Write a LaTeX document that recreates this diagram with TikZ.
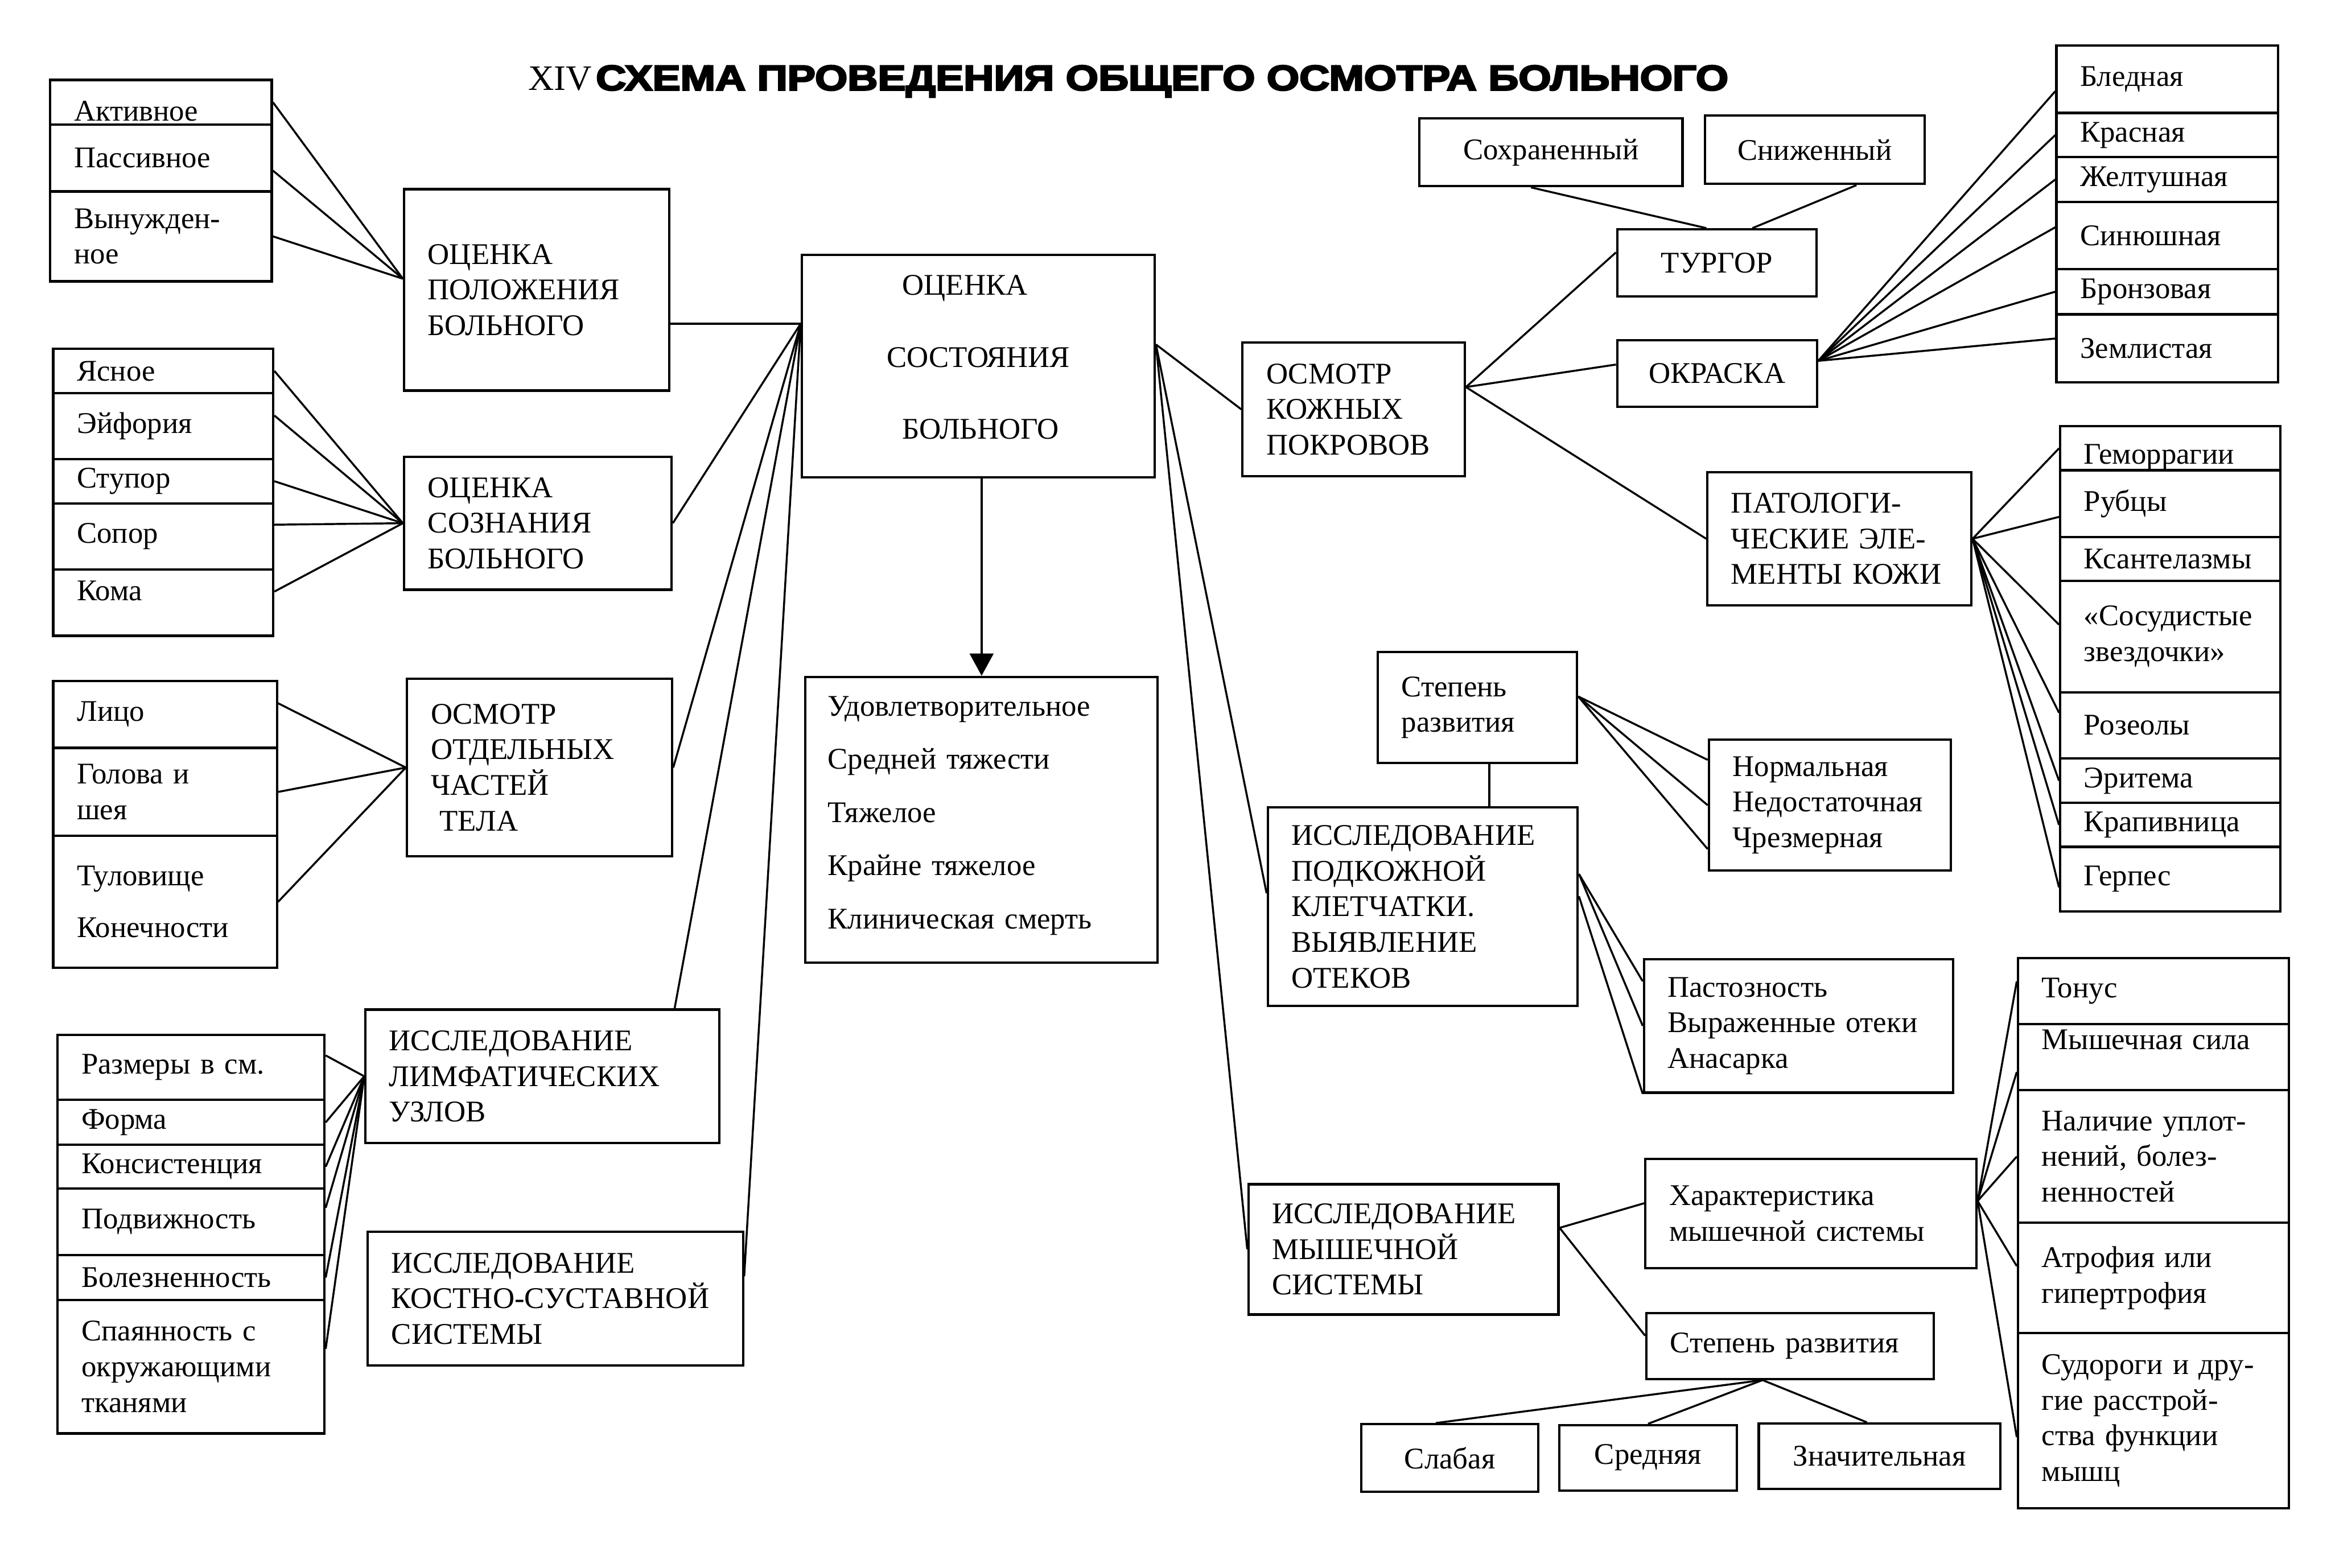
\documentclass[tikz,border=0pt]{standalone}
\usepackage{fontspec}
\setmainfont{Liberation Serif}
\newfontfamily\titlefont[BoldFeatures={FakeBold=4}]{Liberation Sans}
\usetikzlibrary{arrows.meta}
\newcommand\boxfont{\fontsize{11.5}{13.66}\selectfont}

\begin{document}
\begin{tikzpicture}[x=0.2mm,y=-0.2mm,>={Triangle[width=3.2mm,length=3mm]},
	box/.style={draw,line width=0.9pt,anchor=north west,inner xsep=3.2mm,inner ysep=0pt,align=left,font=\boxfont},
	cbox/.style={draw,line width=0.9pt,anchor=north west,inner sep=0pt,align=center,font=\boxfont},
	link/.style={line width=0.75pt}]
	  \useasboundingbox (0,0) rectangle (1568,1055);
	  \node[anchor=base west,inner sep=0pt,font=\fontsize{13.7}{14}\selectfont] (num) at (355,60.7) {XIV};
	  \node[anchor=base west,inner sep=0pt,font=\titlefont\bfseries\fontsize{13.6}{14}\selectfont] (title) at (400.5,60.7) {\scalebox{1.18}[1]{СХЕМА ПРОВЕДЕНИЯ ОБЩЕГО ОСМОТРА БОЛЬНОГО}};
	  \node[box,text width=23.4mm,minimum height=6mm] (pos1) at (33,53) {\rule{0pt}{5.1mm}Активное};
	  \node[box,text width=23.4mm,minimum height=9mm] (pos2) at (33,83) {Пассивное};
	  \node[box,text width=23.4mm,minimum height=12.1mm] (pos3) at (33,128) {Вынужден-\\ное};
	  \node[box,text width=29.3mm,minimum height=27.1mm] (pb) at (271,126.5) {ОЦЕНКА\\ПОЛОЖЕНИЯ\\БОЛЬНОГО};
	  \node[box,text width=23.2mm,minimum height=5.92mm] (con1) at (35,234) {Ясное};
	  \node[box,text width=23.2mm,minimum height=8.88mm] (con2) at (35,263.6) {Эйфория};
	  \node[box,text width=23.2mm,minimum height=6mm] (con3) at (35,308) {Ступор};
	  \node[box,text width=23.2mm,minimum height=8.9mm] (con4) at (35,338) {Сопор};
	  \node[box,text width=23.2mm,minimum height=8.9mm] (con5) at (35,382.5) {Кома\rule[-3.2mm]{0pt}{3.2mm}};
	  \node[box,text width=29.6mm,minimum height=17.9mm] (cb) at (271,306.5) {ОЦЕНКА\\СОЗНАНИЯ\\БОЛЬНОГО};
	  \node[box,text width=23.7mm,minimum height=9mm] (body1) at (35,457.4) {Лицо};
	  \node[box,text width=23.7mm,minimum height=11.86mm] (body2) at (35,502.4) {Голова и\\шея};
	  \node[box,text width=23.7mm,minimum height=17.72mm] (body3) at (35,561.7) {Туловище\\[2.2mm]Конечности};
	  \node[box,text width=29.26mm,minimum height=23.86mm] (bb) at (273,456) {ОСМОТР\\ОТДЕЛЬНЫХ\\ЧАСТЕЙ\\\hspace*{1.2mm}ТЕЛА};
	  \node[box,text width=29.5mm,minimum height=8.78mm] (lym1) at (38,695.4) {Размеры в см.};
	  \node[box,text width=29.5mm,minimum height=6.04mm] (lym2) at (38,739.3) {Форма};
	  \node[box,text width=29.5mm,minimum height=5.9mm] (lym3) at (38,769.5) {Консистенция};
	  \node[box,text width=29.5mm,minimum height=8.96mm] (lym4) at (38,799) {Подвижность};
	  \node[box,text width=29.5mm,minimum height=6mm] (lym5) at (38,843.8) {Болезненность};
	  \node[box,text width=29.5mm,minimum height=17.98mm] (lym6) at (38,873.8) {Спаянность с\\окружающими\\тканями};
	  \node[box,text width=41.2mm,minimum height=17.96mm] (lb) at (245,678.5) {ИССЛЕДОВАНИЕ\\ЛИМФАТИЧЕСКИХ\\УЗЛОВ};
	  \node[box,text width=44.1mm,minimum height=18mm] (bone) at (246.5,828) {ИССЛЕДОВАНИЕ\\КОСТНО-СУСТАВНОЙ\\СИСТЕМЫ};
	  \node[cbox,align=left,minimum width=47.48mm,minimum height=29.96mm] (main) at (538.6,170.6) {\hspace*{2.1mm}ОЦЕНКА\\[4.9mm]СОСТОЯНИЯ\\[4.9mm]\hspace*{2.1mm}БОЛЬНОГО\rule[-2.4mm]{0pt}{2.4mm}};
	  \node[box,inner xsep=3mm,text width=41.4mm,minimum height=38.46mm] (stat) at (541,454.7) {Удовлетворительное\\[2.35mm]Средней тяжести\\[2.35mm]Тяжелое\\[2.35mm]Крайне тяжелое\\[2.35mm]Клиническая смерть\rule[-2mm]{0pt}{2mm}};
	  \node[box,text width=23.5mm,minimum height=18.02mm] (skin) at (835,229.6) {ОСМОТР\\КОЖНЫХ\\ПОКРОВОВ};
	  \node[cbox,minimum width=35.4mm,minimum height=9.1mm] (keep) at (954,79) {Сохраненный};
	  \node[cbox,minimum width=29.6mm,minimum height=9.2mm] (low) at (1146,77) {Сниженный};
	  \node[cbox,minimum width=26.8mm,minimum height=9.02mm] (turg) at (1087,153.5) {ТУРГОР};
	  \node[cbox,minimum width=26.9mm,minimum height=9mm] (col) at (1087,228) {ОКРАСКА};
	  \node[box,text width=23.4mm,minimum height=9.04mm] (col1) at (1382.5,30) {Бледная};
	  \node[box,text width=23.4mm,minimum height=5.96mm] (col2) at (1382.5,75.2) {Красная};
	  \node[box,text width=23.4mm,minimum height=6mm] (col3) at (1382.5,105) {Желтушная};
	  \node[box,text width=23.4mm,minimum height=9.06mm] (col4) at (1382.5,135) {Синюшная};
	  \node[box,text width=23.4mm,minimum height=6.08mm] (col5) at (1382.5,180.3) {Бронзовая};
	  \node[box,text width=23.4mm,minimum height=9.12mm] (col6) at (1382.5,210.7) {Землистая};
	  \node[box,text width=29.12mm,minimum height=17.88mm] (pat) at (1147.7,317) {ПАТОЛОГИ-\\ЧЕСКИЕ ЭЛЕ-\\МЕНТЫ КОЖИ};
	  \node[box,text width=23.2mm,minimum height=5.9mm] (el1) at (1385,286) {\rule{0pt}{5.1mm}Геморрагии};
	  \node[box,text width=23.2mm,minimum height=9mm] (el2) at (1385,315.5) {Рубцы};
	  \node[box,text width=23.2mm,minimum height=5.9mm] (el3) at (1385,360.5) {Ксантелазмы};
	  \node[box,text width=23.2mm,minimum height=15mm] (el4) at (1385,390) {«Сосудистые\\звездочки»};
	  \node[box,text width=23.2mm,minimum height=8.9mm] (el5) at (1385,465) {Розеолы};
	  \node[box,text width=23.2mm,minimum height=6mm] (el6) at (1385,509.5) {Эритема};
	  \node[box,text width=23.2mm,minimum height=5.9mm] (el7) at (1385,539.5) {Крапивница};
	  \node[box,text width=23.2mm,minimum height=8.7mm] (el8) at (1385,569) {Герпес};
	  \node[box,text width=20.4mm,minimum height=14.92mm] (deg) at (926,438) {Степень\\развития};
	  \node[box,text width=35.3mm,minimum height=26.7mm] (sub) at (852,542.5) {ИССЛЕДОВАНИЕ\\ПОДКОЖНОЙ\\КЛЕТЧАТКИ.\\ВЫЯВЛЕНИЕ\\ОТЕКОВ};
	  \node[box,text width=26.16mm,minimum height=17.6mm] (norm) at (1148.7,497) {Нормальная\\Недостаточная\\Чрезмерная};
	  \node[box,text width=35.2mm,minimum height=17.98mm] (ed) at (1105,644.5) {Пастозность\\Выраженные отеки\\Анасарка};
	  \node[box,text width=35.3mm,minimum height=17.54mm] (mus) at (839,796) {ИССЛЕДОВАНИЕ\\МЫШЕЧНОЙ\\СИСТЕМЫ};
	  \node[box,text width=38.14mm,minimum height=14.72mm] (char) at (1106,779) {Характеристика\\мышечной системы};
	  \node[box,text width=32.28mm,minimum height=8.84mm] (dev) at (1106.6,882.8) {Степень развития};
	  \node[cbox,minimum width=23.8mm,minimum height=9.1mm] (weak) at (915,957.5) {Слабая};
	  \node[cbox,minimum width=23.92mm,minimum height=8.8mm] (mid) at (1048,958) {Средняя};
	  \node[cbox,minimum width=32.48mm,minimum height=8.8mm] (strong) at (1182.3,957) {Значительная};
	  \node[box,text width=30.02mm,minimum height=8.88mm] (ml1) at (1356.6,643.8) {Тонус};
	  \node[box,text width=30.02mm,minimum height=8.92mm] (ml2) at (1356.6,688.2) {Мышечная сила\rule[-4.8mm]{0pt}{4.8mm}};
	  \node[box,text width=30.02mm,minimum height=17.84mm] (ml3) at (1356.6,732.8) {Наличие уплот-\\нений, болез-\\ненностей};
	  \node[box,text width=30.02mm,minimum height=14.84mm] (ml4) at (1356.6,822) {Атрофия или\\гипертрофия};
	  \node[box,text width=30.02mm,minimum height=23.56mm] (ml5) at (1356.6,896.2) {Судороги и дру-\\гие расстрой-\\ства функции\\мышц};
	  \coordinate (mainL) at ([yshift=5.7mm]main.west);
	  \coordinate (mainR) at ([yshift=2.9mm]main.east);
	  \coordinate (pbL) at ([yshift=1.5mm]pb.west);
	  \coordinate (skinR) at ([yshift=3mm]skin.east);
	  \coordinate (colR) at ([yshift=1.7mm]col.east);
	  \coordinate (degR) at ([yshift=1.5mm]deg.east);
	  \coordinate (musR) at ([yshift=2.9mm]mus.east);
	  \coordinate (charR) at ([yshift=1.7mm]char.east);
	  \coordinate (devB) at ([xshift=-3.7mm]dev.south);
	  \draw[link] (pos1.east) -- (pbL);
	  \draw[link] ([yshift=-1.7mm]pos2.east) -- (pbL);
	  \draw[link] (pos3.east) -- (pbL);
	  \draw[link] (mainL -| pb.east) -- (mainL);
	  \draw[link] (con1.east) -- (cb.west);
	  \draw[link] ([yshift=1.4mm]con2.east) -- (cb.west);
	  \draw[link] (con3.east) -- (cb.west);
	  \draw[link] ([yshift=1.6mm]con4.east) -- (cb.west);
	  \draw[link] ([yshift=1.5mm]con5.east) -- (cb.west);
	  \draw[link] (cb.east) -- (mainL);
	  \draw[link] ([yshift=1.5mm]body1.east) -- (bb.west);
	  \draw[link] (body2.east) -- (bb.west);
	  \draw[link] (body3.east) -- (bb.west);
	  \draw[link] (bb.east) -- (mainL);
	  \draw[link] ([yshift=1.6mm]lym1.east) -- (lb.west);
	  \draw[link] (lym2.east) -- (lb.west);
	  \draw[link] (lym3.east) -- (lb.west);
	  \draw[link] ([yshift=1.9mm]lym4.east) -- (lb.west);
	  \draw[link] (lym5.east) -- (lb.west);
	  \draw[link] ([yshift=2.4mm]lym6.east) -- (lb.west);
	  \draw[link] (mainL) -- ([xshift=17.8mm]lb.north);
	  \draw[link] (mainL) -- ([yshift=3mm]bone.east);
	  \draw[link,->] (main.south -| stat.north) -- (stat.north);
	  \draw[link] (mainR) -- (skin.west);
	  \draw[link] (mainR) -- ([yshift=1.8mm]sub.west);
	  \draw[link] (mainR) -- (mus.west);
	  \draw[link] (skinR) -- ([yshift=1.4mm]turg.west);
	  \draw[link] (skinR) -- ([yshift=1.2mm]col.west);
	  \draw[link] (skinR) -- (pat.west);
	  \draw[link] ([xshift=-2.7mm]keep.south) -- ([xshift=-1.4mm]turg.north);
	  \draw[link] ([xshift=5.6mm]low.south) -- ([xshift=4.8mm]turg.north);
	  \draw[link] ([yshift=-1.6mm]col1.west) -- (colR);
	  \draw[link] (col2.west) -- (colR);
	  \draw[link] (col3.west) -- (colR);
	  \draw[link] ([yshift=1.1mm]col4.west) -- (colR);
	  \draw[link] (col5.west) -- (colR);
	  \draw[link] ([yshift=1.3mm]col6.west) -- (colR);
	  \draw[link] (pat.east) -- (el1.west);
	  \draw[link] (pat.east) -- ([yshift=-1.8mm]el2.west);
	  \draw[link] (pat.east) -- ([yshift=1.6mm]el4.west);
	  \draw[link] (pat.east) -- ([yshift=1.7mm]el5.west);
	  \draw[link] (pat.east) -- (el6.west);
	  \draw[link] (pat.east) -- (el7.west);
	  \draw[link] (pat.east) -- ([yshift=-1.1mm]el8.west);
	  \draw[link] (degR) -- ([yshift=6.1mm]norm.west);
	  \draw[link] (degR) -- (norm.west);
	  \draw[link] (degR) -- ([yshift=-5.9mm]norm.west);
	  \draw[link] ([xshift=1.6mm]deg.south) -- ([xshift=1.6mm]deg.south |- sub.north);
	  \draw[link] ([yshift=4.4mm]sub.east) -- ([yshift=6mm]ed.west);
	  \draw[link] ([yshift=4.4mm]sub.east) -- (ed.west);
	  \draw[link] ([yshift=1.4mm]sub.east) -- (ed.south west);
	  \draw[link] (musR) -- ([yshift=1.4mm]char.west);
	  \draw[link] (musR) -- ([yshift=1.4mm]dev.west);
	  \draw[link] (charR) -- ([yshift=1.3mm]ml1.west);
	  \draw[link] (charR) -- ([yshift=-2mm]ml2.west);
	  \draw[link] (charR) -- (ml3.west);
	  \draw[link] (charR) -- ([yshift=1.6mm]ml4.west);
	  \draw[link] (charR) -- ([yshift=-2.2mm]ml5.west);
	  \draw[link] (devB) -- ([xshift=-1.9mm]weak.north);
	  \draw[link] (devB) -- (mid.north);
	  \draw[link] (devB) -- ([xshift=-1.7mm]strong.north);
	\end{tikzpicture}
\end{document}
